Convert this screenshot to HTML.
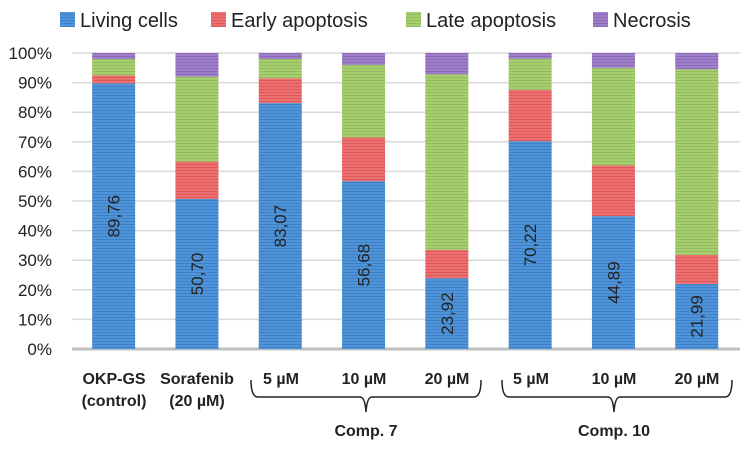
<!DOCTYPE html>
<html><head><meta charset="utf-8"><style>
body{margin:0;background:#fff;width:751px;height:449px;overflow:hidden}
text{font-family:"Liberation Sans",sans-serif}
.xl{font-family:"Liberation Sans Narrow","Liberation Sans",sans-serif;font-weight:bold;font-size:16px;fill:#222}
</style></head><body>
<svg id="chart" width="751" height="449" viewBox="0 0 751 449">
<defs>
<pattern id="pb" width="4" height="3" patternUnits="userSpaceOnUse"><rect width="4" height="3" fill="#4f93d8"/><rect y="2" width="4" height="1" fill="#3f80c6"/></pattern>
<pattern id="pr" width="4" height="3" patternUnits="userSpaceOnUse"><rect width="4" height="3" fill="#ee6f6f"/><rect y="2" width="4" height="1" fill="#dc5a5a"/></pattern>
<pattern id="pg" width="4" height="3" patternUnits="userSpaceOnUse"><rect width="4" height="3" fill="#a6cd6e"/><rect y="2" width="4" height="1" fill="#93bc5c"/></pattern>
<pattern id="pp" width="4" height="3" patternUnits="userSpaceOnUse"><rect width="4" height="3" fill="#9f80c8"/><rect y="2" width="4" height="1" fill="#8c6bb8"/></pattern>
</defs>
<g id="grid"></g><g id="bars"></g><g id="labels"></g>
<g font-size="20" fill="#222">
<rect x="60" y="12" width="15" height="15" fill="url(#pb)"/><text x="80" y="27">Living cells</text>
<rect x="211" y="12" width="15" height="15" fill="url(#pr)"/><text x="231" y="27">Early apoptosis</text>
<rect x="406" y="12" width="15" height="15" fill="url(#pg)"/><text x="426" y="27">Late apoptosis</text>
<rect x="593" y="12" width="15" height="15" fill="url(#pp)"/><text x="613" y="27">Necrosis</text>
</g>
<g>
<text class="xl" x="114" y="384" text-anchor="middle">OKP-GS</text><text class="xl" x="114" y="406" text-anchor="middle">(control)</text>
<text class="xl" x="197" y="384" text-anchor="middle">Sorafenib</text><text class="xl" x="197" y="406" text-anchor="middle">(20 µM)</text>
<text class="xl" x="281" y="384" text-anchor="middle">5 µM</text><text class="xl" x="364" y="384" text-anchor="middle">10 µM</text><text class="xl" x="447" y="384" text-anchor="middle">20 µM</text>
<text class="xl" x="531" y="384" text-anchor="middle">5 µM</text><text class="xl" x="614" y="384" text-anchor="middle">10 µM</text><text class="xl" x="697" y="384" text-anchor="middle">20 µM</text>
<path d="M251 380 Q251 397 258 397 L360 397 Q365 397 366 412 Q367 397 372 397 L474 397 Q481 397 481 380" fill="none" stroke="#222" stroke-width="1.5"/>
<path d="M502 380 Q502 397 509 397 L608 397 Q613 397 614 412 Q615 397 620 397 L725 397 Q732 397 732 380" fill="none" stroke="#222" stroke-width="1.5"/>
<text class="xl" x="366" y="436" text-anchor="middle">Comp. 7</text>
<text class="xl" x="614" y="436" text-anchor="middle">Comp. 10</text>
</g>
</svg>
<script>
const categories=["OKP-GS","Sorafenib","C7 5","C7 10","C7 20","C10 5","C10 10","C10 20"];
const living=[89.76,50.70,83.07,56.68,23.92,70.22,44.89,21.99];
const early=[2.7,12.6,8.4,14.8,9.6,17.3,17.1,9.8];
const late=[5.5,28.7,6.5,24.5,59.3,10.5,33.0,62.7];
const necrosis=[2.04,8.0,2.03,4.02,7.18,1.98,5.01,5.51];
const livingLabels=["89,76","50,70","83,07","56,68","23,92","70,22","44,89","21,99"];
const ticks=[0,10,20,30,40,50,60,70,80,90,100];
const NS="http://www.w3.org/2000/svg";
const y0=349,y1=53,x0=72,step=83.3,bw=43;
const yS=v=>y0-(v/100)*(y0-y1);
const xC=i=>x0+step*(i+0.5);
const mk=(t,a,p)=>{const e=document.createElementNS(NS,t);for(const k in a)e.setAttribute(k,a[k]);p.appendChild(e);return e;};
const grid=document.getElementById('grid'),bars=document.getElementById('bars'),labels=document.getElementById('labels');
ticks.forEach(t=>{
 if(t>0){const l=mk('line',{x1:x0,x2:740,y1:yS(t),y2:yS(t),stroke:'#d9d9d9','stroke-width':1.5},grid);
 
 }
 const tx=mk('text',{x:52,y:yS(t)+6,'text-anchor':'end','font-size':17,fill:'#222'},grid);
 tx.textContent=t+'%';
 
 
});
const series=[[living,'url(#pb)','living'],[early,'url(#pr)','early'],[late,'url(#pg)','late'],[necrosis,'url(#pp)','necrosis']];
categories.forEach((c,i)=>{
 let acc=0;
 series.forEach(([arr,fill,nm])=>{
  const v=arr[i];
  const r=mk('rect',{x:xC(i)-bw/2,y:yS(acc+v),width:bw,height:yS(acc)-yS(acc+v),fill:fill},bars);
  
  
  acc+=v;
 });
 const cy=(yS(0)+yS(living[i]))/2, cx=xC(i)+6;
 const t=mk('text',{x:cx,y:cy,'text-anchor':'middle','font-size':17,fill:'#222',transform:`rotate(-90 ${cx} ${cy})`},labels);
 t.textContent=livingLabels[i];
 
 
});
const ax=mk('line',{x1:x0,x2:740,y1:y0,y2:y0,stroke:'#bfbfbf','stroke-width':3},grid);


</script>
</body></html>
